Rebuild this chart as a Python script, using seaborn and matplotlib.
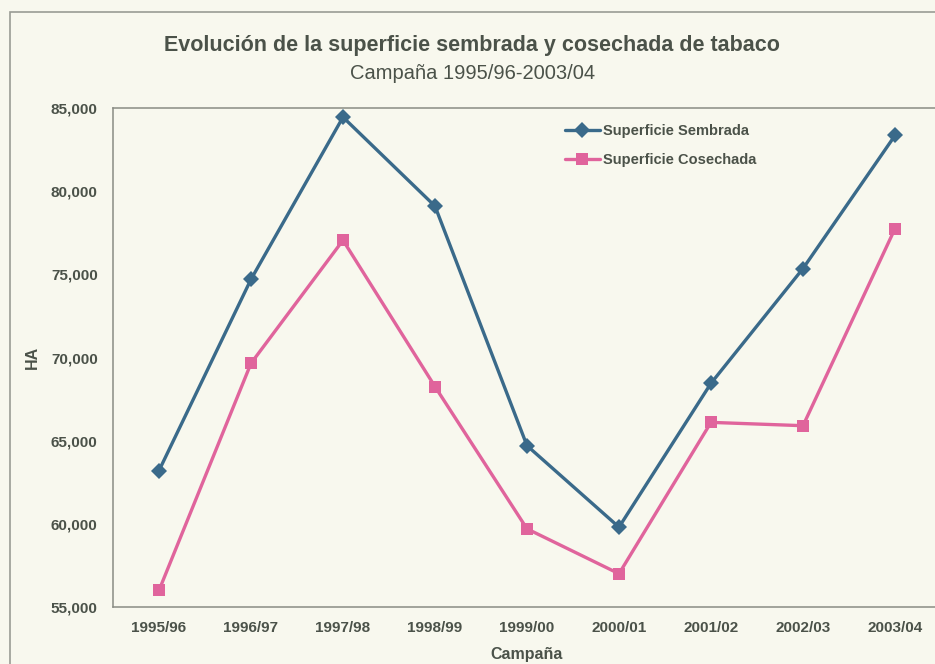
import pandas as pd
import numpy as np
import matplotlib.pyplot as plt
import matplotlib.ticker as mticker
from matplotlib.patches import Rectangle
import seaborn as sns

sns.set_style('white')
plt.rcParams['font.family'] = ['Liberation Sans', 'DejaVu Sans']

# --- data ---
campanas = ['1995/96', '1996/97', '1997/98', '1998/99', '1999/00',
            '2000/01', '2001/02', '2002/03', '2003/04']
sembrada = [63200, 74700, 84450, 79100, 64700, 59800, 68450, 75350, 83350]
cosechada = [56000, 69650, 77050, 68250, 59700, 57000, 66100, 65900, 77750]

series_names = ['Superficie Sembrada', 'Superficie Cosechada']
series_colors = ['#3a6a8a', '#e0649c']
series_markers = ['D', 's']

df = pd.DataFrame({'Campaña': campanas * 2,
                   'HA': sembrada + cosechada,
                   'serie': [series_names[0]] * len(campanas) + [series_names[1]] * len(campanas)})

bg = '#f8f8ee'
txt = '#4b5249'

fig = plt.figure(figsize=(9.35, 6.64), dpi=100, facecolor=bg)
ax = fig.add_axes([113 / 935, 1 - 607 / 664, 828 / 935, (607 - 108) / 664])
ax.set_facecolor(bg)

# outer chart frame
fig.patches.append(Rectangle((10 / 935, -0.2), 1.2, 1.2 - 12 / 664,
                             transform=fig.transFigure, fill=False,
                             edgecolor='#9a9c94', linewidth=1.2))

sns.lineplot(data=df, x='Campaña', y='HA', hue='serie', style='serie',
             palette=series_colors, markers=series_markers, dashes=False,
             linewidth=2.4, markersize=8, markeredgewidth=0, ax=ax, sort=False)

ax.set_xlim(-0.5, 8.5)
ax.set_ylim(55000, 85000)
ax.set_yticks(np.arange(55000, 85001, 5000))
ax.yaxis.set_major_formatter(mticker.StrMethodFormatter('{x:,.0f}'))
ax.set_xticks(range(len(campanas)))
ax.set_xticklabels(campanas, fontweight='bold')
for t in ax.get_yticklabels():
    t.set_fontweight('bold')
ax.xaxis.set_minor_locator(mticker.FixedLocator(np.arange(0.5, 8.5, 1)))
ax.tick_params(axis='x', which='major', length=0, pad=10, labelsize=11, labelcolor=txt)
ax.tick_params(axis='x', which='minor', length=4, color='#8a8c84', direction='out')
ax.tick_params(axis='y', length=5, color='#8a8c84', direction='out', labelsize=11, labelcolor=txt, pad=6)
for s in ax.spines.values():
    s.set_color('#8a8c84')
    s.set_linewidth(1.1)

ax.set_xlabel('Campaña', fontsize=11.5, fontweight='bold', color=txt, labelpad=9)
ax.set_ylabel('HA', fontsize=11.5, fontweight='bold', color=txt, labelpad=8)

leg = ax.legend(loc='upper left', bbox_to_anchor=(0.53, 0.995), frameon=False,
                prop={'size': 10.5, 'weight': 'bold'},
                handlelength=2.4, handletextpad=0.2, labelspacing=1.05)
for t in leg.get_texts():
    t.set_color(txt)

fig.text(0.505, 0.931, 'Evolución de la superficie sembrada y cosechada de tabaco',
         ha='center', va='center', fontsize=15.5, fontweight='bold', color=txt)
fig.text(0.505, 0.889, 'Campaña 1995/96-2003/04',
         ha='center', va='center', fontsize=14.5, color=txt)

fig.savefig('out.png', dpi=100, facecolor=bg)
